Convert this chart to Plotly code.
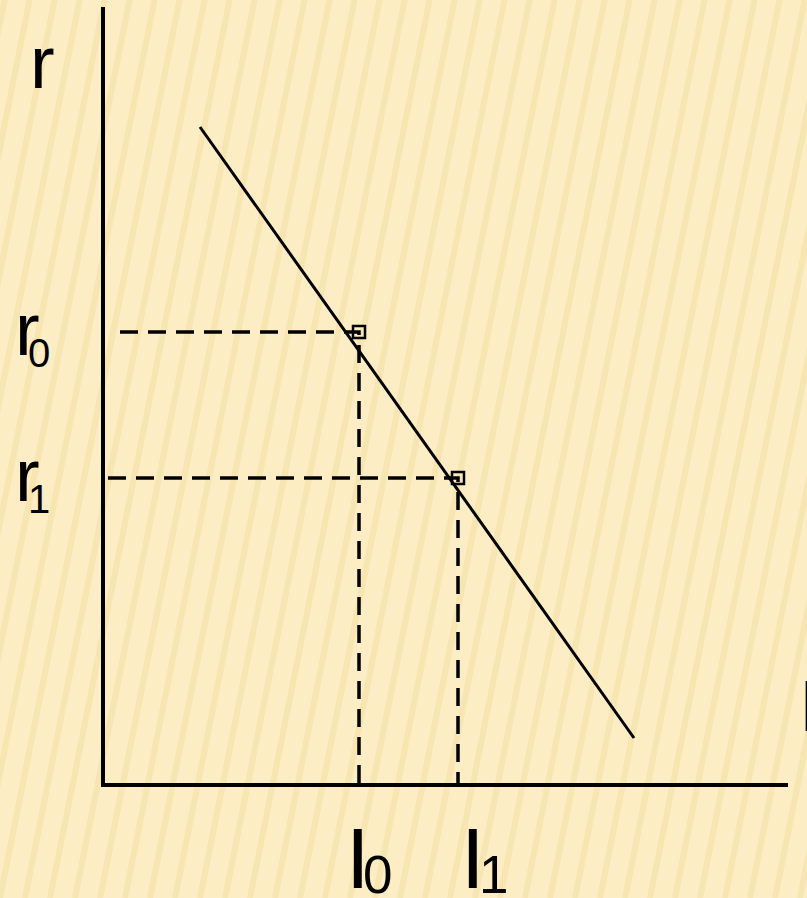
import plotly.graph_objects as go

# investment demand curve: interest rate r vs investment I
curve_I = [9.7, 53.1]
curve_r = [65.8, 4.7]

# the two marked points
point_labels = ['0', '1']
point_I = [25.6, 35.5]
point_r = [45.3, 30.7]
dash_start_I = [1.7, 0.5]

# axis lengths
axis_I_max = 68.5
axis_r_max = 77.8

W, H = 807, 898
x_range = [-10.3, 70.4]
y_range = [-11.3, 78.5]

font_name = 'Liberation Sans, Arial'

fig = go.Figure()

# axes
fig.add_trace(go.Scatter(x=[0, 0, axis_I_max], y=[axis_r_max, 0, 0], mode='lines',
                         line=dict(color='black', width=4), hoverinfo='skip'))

# dashed guides
for i in range(len(point_I)):
    fig.add_trace(go.Scatter(x=[dash_start_I[i], point_I[i], point_I[i]],
                             y=[point_r[i], point_r[i], 0], mode='lines',
                             line=dict(color='black', width=3.5, dash='18px,10px'),
                             hoverinfo='skip'))

# curve
fig.add_trace(go.Scatter(x=curve_I, y=curve_r, mode='lines',
                         line=dict(color='black', width=3), hoverinfo='skip'))

# small square corners
fig.add_trace(go.Scatter(x=point_I, y=point_r, mode='markers',
                         marker=dict(symbol='square-open', size=12, color='black',
                                     line=dict(width=2.5)),
                         hoverinfo='skip'))


def label(x, y, txt, size):
    return dict(x=x, y=y, text=txt, xref='x', yref='y', showarrow=False,
                xanchor='left', yanchor='middle',
                font=dict(family=font_name, size=size, color='black'))


ann = [label(-7.5, 72.3, 'r', 74),
       label(69.35, 7.9, 'I', 72)]
i_shift = [-1.5, 0.1]
d_shift = [0.2, 1.9]
for i in range(len(point_I)):
    ann.append(label(-9.0, point_r[i] + 0.25, 'r', 74))
    ann.append(label(-7.7, point_r[i] - 2.05, point_labels[i], 40))
    ann.append(label(point_I[i] + i_shift[i], -7.33, 'I', 85))
    ann.append(label(point_I[i] + d_shift[i], -8.95, point_labels[i], 53))
fig.update_layout(annotations=ann)

# striped background
shapes = []
for k in range(-20, 45):
    x0 = k * 25
    shapes.append(dict(type='line', xref='paper', yref='paper', layer='below',
                       x0=x0 / W, y0=0, x1=(x0 + 0.2 * H) / W, y1=1,
                       line=dict(color='rgba(225,185,90,0.16)', width=6)))

fig.update_layout(
    width=W, height=H,
    margin=dict(l=0, r=0, t=0, b=0),
    paper_bgcolor='#FCEDC4',
    plot_bgcolor='rgba(0,0,0,0)',
    showlegend=False,
    xaxis=dict(range=x_range, visible=False, fixedrange=True),
    yaxis=dict(range=y_range, visible=False, fixedrange=True),
    shapes=shapes,
)

fig.write_html('out.html', config={'displayModeBar': False},
               post_script="document.body.style.margin='0';")
